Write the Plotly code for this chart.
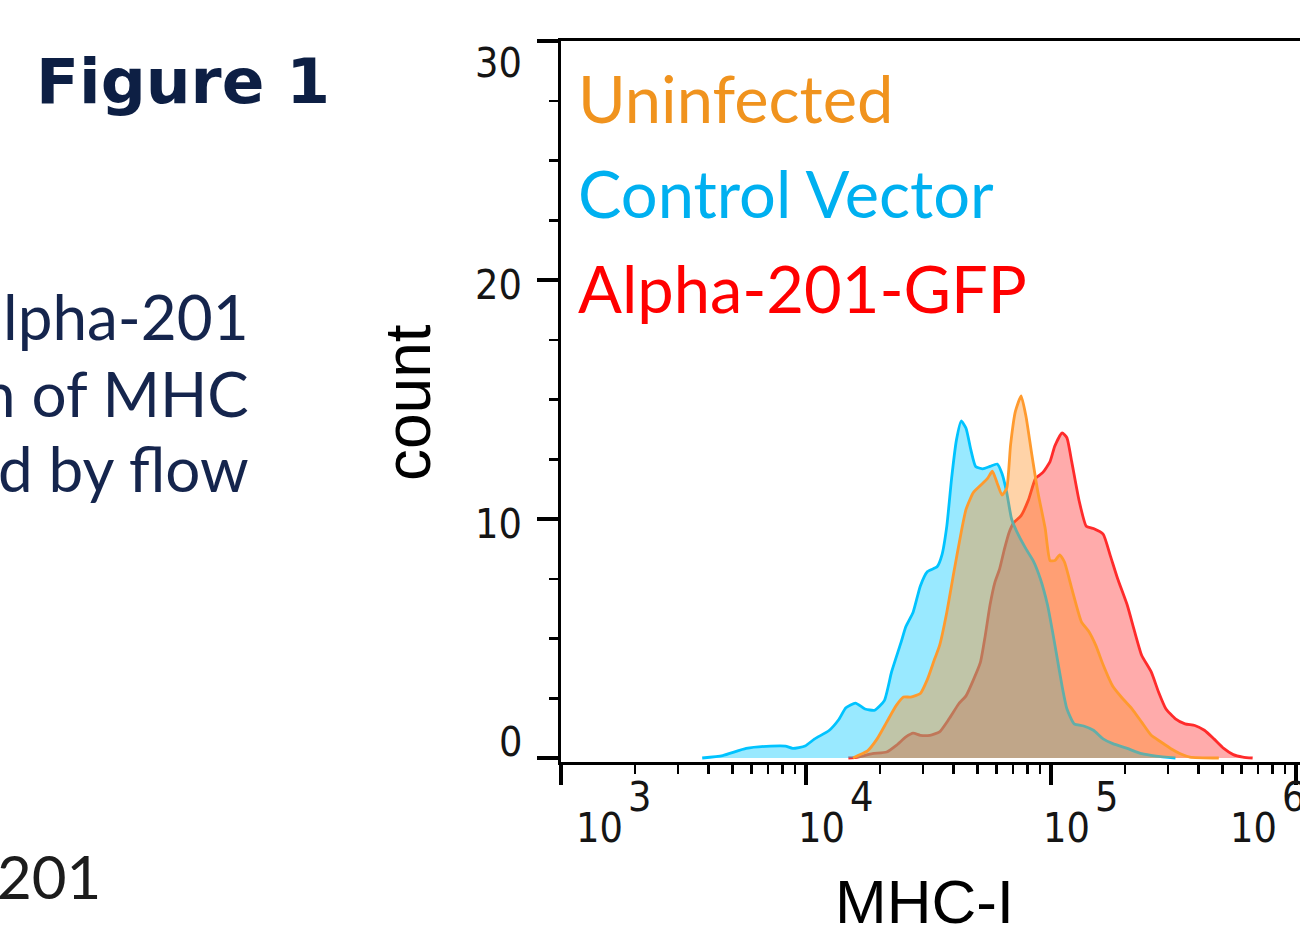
import numpy as np
import plotly.graph_objects as go

# ---------------- data ----------------
# MHC-I intensity (x) and cell count (y) for each histogram
alpha_x = [1.489e4, 1.630e4, 1.866e4, 2.134e4, 2.337e4, 2.557e4, 2.737e4, 2.929e4, 3.205e4, 3.508e4,
           3.839e4, 4.204e4, 4.499e4, 4.813e4, 5.150e4, 5.386e4, 5.637e4, 5.902e4, 6.166e4, 6.457e4,
           6.745e4, 7.063e4, 7.551e4, 8.091e4, 8.650e4, 9.268e4, 9.910e4, 1.037e5, 1.110e5, 1.161e5,
           1.215e5, 1.300e5, 1.393e5, 1.490e5, 1.632e5, 1.746e5, 1.871e5, 2.047e5, 2.193e5, 2.344e5,
           2.565e5, 2.748e5, 2.943e5, 3.221e5, 3.524e5, 3.864e5, 4.227e5, 4.624e5, 5.070e5, 5.546e5,
           6.067e5, 6.653e5]
alpha_y = [0.0, 0.04, 0.18, 0.25, 0.53, 0.88, 1.04, 0.95, 0.95, 1.09,
           1.64, 2.27, 2.6, 3.25, 4.0, 5.1, 6.4, 7.35, 7.9, 8.75,
           9.44, 9.86, 10.14, 10.8, 11.7, 11.95, 12.4, 13.06, 13.6, 13.4,
           12.4, 10.8, 9.7, 9.6, 9.37, 8.47, 7.5, 6.4, 5.3, 4.3,
           3.6, 2.76, 2.06, 1.64, 1.43, 1.36, 1.16, 0.8, 0.4, 0.14,
           0.04, 0.0]

control_x = [3.77e3, 4.57e3, 5.70e3, 7.18e3, 8.24e3, 8.83e3, 9.91e3, 1.085e4, 1.242e4, 1.359e4,
             1.455e4, 1.592e4, 1.742e4, 1.907e4, 2.088e4, 2.235e4, 2.445e4, 2.557e4, 2.737e4, 2.929e4,
             3.133e4, 3.428e4, 3.589e4, 3.756e4, 3.929e4, 4.111e4, 4.300e4, 4.499e4, 4.707e4, 4.923e4,
             5.268e4, 5.637e4, 6.031e4, 6.309e4, 6.600e4, 6.904e4, 7.387e4, 7.903e4, 8.455e4, 9.046e4,
             9.679e4, 1.014e5, 1.061e5, 1.110e5, 1.161e5, 1.243e5, 1.360e5, 1.490e5, 1.632e5, 1.787e5,
             2.047e5, 2.344e5, 2.686e5, 3.221e5]
control_y = [0.0, 0.1, 0.4, 0.5, 0.5, 0.4, 0.5, 0.8, 1.15, 1.6,
             2.1, 2.3, 2.05, 2.0, 2.4, 3.6, 4.85, 5.5, 6.1, 7.2,
             7.8, 8.0, 8.5, 9.7, 11.7, 13.3, 14.1, 13.8, 12.9, 12.2,
             12.1, 12.2, 12.3, 11.9, 11.1, 10.0, 9.3, 8.75, 8.26, 7.5,
             6.4, 5.3, 4.15, 3.0, 2.06, 1.43, 1.34, 1.16, 0.8, 0.6,
             0.4, 0.18, 0.08, 0.0]

uninf_x = [1.556e4, 1.630e4, 1.783e4, 1.951e4, 2.134e4, 2.337e4, 2.500e4, 2.674e4, 2.929e4, 3.133e4,
           3.351e4, 3.508e4, 3.756e4, 4.018e4, 4.300e4, 4.499e4, 4.813e4, 5.150e4, 5.509e4, 5.764e4,
           6.031e4, 6.309e4, 6.600e4, 6.839e4, 7.156e4, 7.551e4, 7.903e4, 8.350e4, 8.851e4, 9.470e4,
           9.910e4, 1.037e5, 1.085e5, 1.135e5, 1.215e5, 1.331e5, 1.425e5, 1.525e5, 1.632e5, 1.787e5,
           1.955e5, 2.141e5, 2.344e5, 2.565e5, 2.811e5, 3.076e5, 3.371e5, 3.690e5, 4.842e5]
uninf_y = [0.0, 0.1, 0.3, 0.8, 1.5, 2.2, 2.55, 2.55, 2.7, 3.3,
           4.15, 4.7, 6.1, 7.8, 9.45, 10.4, 11.1, 11.4, 11.7, 12.0,
           11.5, 11.0, 11.3, 13.1, 14.5, 15.15, 14.3, 12.7, 11.1, 9.6,
           8.26, 8.26, 8.5, 8.2, 7.1, 5.7, 5.3, 4.7, 3.9, 3.0,
           2.5, 2.06, 1.5, 0.95, 0.67, 0.4, 0.18, 0.04, 0.0]

series_names = ["Alpha-201-GFP", "Control Vector", "Uninfected"]
x_tick_values = [1e3, 1e4, 1e5, 1e6]
x_tick_base = ["10", "10", "10", "10"]
x_tick_exp = ["3", "4", "5", "6"]
y_tick_values = [0, 10, 20, 30]
y_tick_labels = ["0", "10", "20", "30"]

# ---------------- figure ----------------
W, H = 1300, 933
ML, MR, MT, MB = 561, 0, 41, 171
PW, PH = W - ML - MR, H - MT - MB

def pxx(px):
    return (px - ML) / PW

def pxy(py):
    return (H - MB - py) / PH

fig = go.Figure()

styles = {
    "Alpha-201-GFP": dict(line="#ff2b2b", fill="rgba(255,0,0,0.33)"),
    "Control Vector": dict(line="#00c3ff", fill="rgba(0,200,255,0.40)"),
    "Uninfected": dict(line="#ff9a2e", fill="rgba(255,142,32,0.39)"),
}
data = {
    "Alpha-201-GFP": (alpha_x, alpha_y),
    "Control Vector": (control_x, control_y),
    "Uninfected": (uninf_x, uninf_y),
}
for name in series_names:
    xs, ys = data[name]
    st = styles[name]
    fig.add_trace(go.Scatter(x=xs, y=ys, mode="lines", name=name, fill="tozeroy",
                             fillcolor=st["fill"],
                             line=dict(color=st["line"], width=2.8, shape="spline", smoothing=0.5),
                             hoverinfo="skip"))

decade_px = 245.0
fig.update_xaxes(type="log", range=[3, 3 + PW / decade_px], showgrid=False, zeroline=False,
                 showline=True, linecolor="black", linewidth=3, mirror=True,
                 ticks="outside", ticklen=20, tickwidth=4, tickcolor="black",
                 tickmode="linear", tick0=0, dtick=1, showticklabels=False,
                 minor=dict(ticks="outside", ticklen=9, tickwidth=2.5, tickcolor="black",
                            dtick="D1", showgrid=False))
px_per_unit = 23.9
fig.update_yaxes(range=[-4 / px_per_unit, 30], showgrid=False, zeroline=False,
                 showline=True, linecolor="black", linewidth=3,
                 ticks="outside", ticklen=21, tickwidth=4, tickcolor="black",
                 tickmode="array", tickvals=y_tick_values, showticklabels=False,
                 minor=dict(ticks="outside", ticklen=9, tickwidth=2.5, tickcolor="black",
                            tick0=0, dtick=2.5, showgrid=False))

ann = []
tick_font = dict(family="DejaVu Sans Condensed, DejaVu Sans", size=41, color="#151515")
# y tick labels (kept inside the axis span, like the original)
y_shift = {0: 16, 10: -5, 20: -5, 30: -21.5}
for v, t in zip(y_tick_values, y_tick_labels):
    ann.append(dict(text=t, xref="paper", x=0, xanchor="right", xshift=-37,
                    yref="y", y=v, yanchor="middle", yshift=y_shift[v],
                    showarrow=False, font=tick_font))
# x tick labels as 10 with raised exponent
grp_shift = {1e3: 23, 1e4: 0, 1e5: 0, 1e6: -58}
for v, b, e in zip(x_tick_values, x_tick_base, x_tick_exp):
    lx = float(np.log10(v))
    ann.append(dict(text=b, xref="x", x=lx, xanchor="center", xshift=15 + grp_shift[v],
                    yref="paper", y=0, yanchor="middle", yshift=-65.5,
                    showarrow=False, font=tick_font))
    ann.append(dict(text=e, xref="x", x=lx, xanchor="center", xshift=55 + grp_shift[v],
                    yref="paper", y=0, yanchor="middle", yshift=-35,
                    showarrow=False, font=tick_font))

title_font = dict(family="Liberation Sans, Arial", size=62, color="black")
ann.append(dict(text="MHC-I", xref="paper", x=pxx(924), yref="paper", y=pxy(902),
                xanchor="center", yanchor="middle", showarrow=False, font=title_font))
ann.append(dict(text="count", xref="paper", x=pxx(408), yref="paper", y=pxy(403),
                xanchor="center", yanchor="middle", textangle=-90, showarrow=False,
                font=dict(family="Liberation Sans, Arial", size=64, color="black")))

# in-plot legend
legend_colors = {"Uninfected": "#f0931e", "Control Vector": "#00b0f0", "Alpha-201-GFP": "#ff0000"}
legend_order = ["Uninfected", "Control Vector", "Alpha-201-GFP"]
legend_baseline = [122, 217, 312]
for name, bl in zip(legend_order, legend_baseline):
    ann.append(dict(text=name, xref="paper", x=pxx(576), yref="paper", y=pxy(bl - 24),
                    xanchor="left", yanchor="middle", showarrow=False,
                    font=dict(family="Lato", size=65, color=legend_colors[name])))

# page text to the left of the chart
navy = "#0d1f44"
ann.append(dict(text="<b>Figure 1</b>", xref="paper", x=pxx(34), yref="paper", y=pxy(82),
                xanchor="left", yanchor="middle", showarrow=False,
                font=dict(family="DejaVu Sans", size=63, color=navy)))
body_lines = ["lpha-201", "n of MHC", "d by flow"]
body_baselines = [338, 415, 490]
for t, bl in zip(body_lines, body_baselines):
    ann.append(dict(text=t, xref="paper", x=pxx(251), yref="paper", y=pxy(bl - 22),
                    xanchor="right", yanchor="middle", showarrow=False,
                    font=dict(family="Lato", size=62, color="#15254d")))
ann.append(dict(text="201", xref="paper", x=pxx(-5), yref="paper", y=pxy(876),
                xanchor="left", yanchor="middle", showarrow=False,
                font=dict(family="Lato", size=60, color="#1c1c1c")))

fig.update_layout(width=W, height=H, margin=dict(l=ML, r=MR, t=MT, b=MB),
                  paper_bgcolor="white", plot_bgcolor="white", showlegend=False,
                  annotations=ann)

fig.write_html("out.html", config={"displayModeBar": False, "staticPlot": True},
               post_script="document.body.style.margin='0';document.body.style.overflow='hidden';")
